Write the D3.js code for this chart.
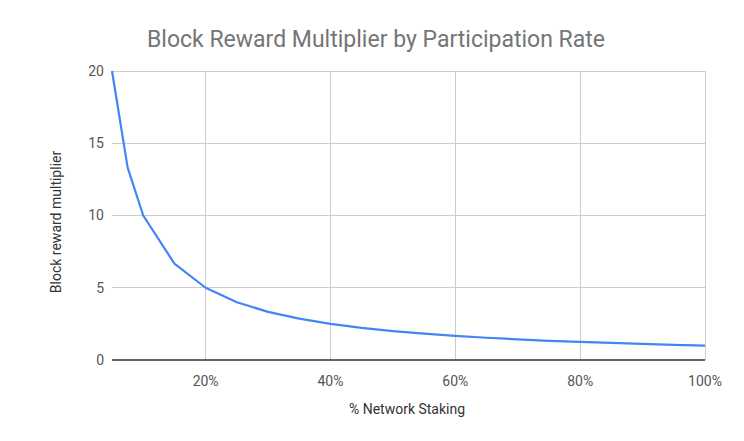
<!DOCTYPE html>
<html><head><meta charset="utf-8">
<script src="https://cdn.jsdelivr.net/npm/d3@7"></script>
<style>body{margin:0;background:#fff}svg{display:block;font-family:Roboto,"Noto Sans",sans-serif}</style>
</head><body><svg id="c" width="744" height="441"></svg>
<script>
const stakingPct = [5, 7.5, 10, 15, 20, 25, 30, 35, 40, 45, 50, 55, 60, 65, 70, 75, 80, 85, 90, 95, 100];
const multiplier = [20, 13.33, 10, 6.67, 5, 4, 3.33, 2.86, 2.5, 2.22, 2, 1.82, 1.67, 1.54, 1.43, 1.33, 1.25, 1.18, 1.11, 1.05, 1];
const xTicks = [20, 40, 60, 80, 100];
const yTicks = [0, 5, 10, 15, 20];
const titleText = "Block Reward Multiplier by Participation Rate";
const xLabel = "% Network Staking";
const yLabel = "Block reward multiplier";

const svg = d3.select("#c");
const x = d3.scaleLinear().domain([5, 100]).range([112, 705]);
const y = d3.scaleLinear().domain([0, 20]).range([360, 71]);

// grid
svg.append("g").selectAll("line").data(yTicks.filter(d => d > 0)).join("line")
  .attr("x1", x(5)).attr("x2", x(100)).attr("y1", d => y(d)).attr("y2", d => y(d))
  .attr("stroke", "#cccccc").attr("stroke-width", 1).attr("shape-rendering", "crispEdges");
svg.append("g").selectAll("line").data(xTicks).join("line")
  .attr("x1", d => x(d)).attr("x2", d => x(d)).attr("y1", y(20)).attr("y2", y(0))
  .attr("stroke", "#cccccc").attr("stroke-width", 1).attr("shape-rendering", "crispEdges");

// baseline
svg.append("line").attr("x1", x(5)).attr("x2", x(100)).attr("y1", y(0)).attr("y2", y(0))
  .attr("stroke", "#333333").attr("stroke-width", 1.5);

// tick labels
svg.append("g").selectAll("text").data(yTicks).join("text")
  .attr("x", 104).attr("y", d => y(d)).attr("dy", "0.35em").attr("text-anchor", "end")
  .attr("font-size", 14).attr("fill", "#555").text(d => d);
svg.append("g").selectAll("text").data(xTicks).join("text")
  .attr("x", d => x(d)).attr("y", 381).attr("dy", "0.35em").attr("text-anchor", "middle")
  .attr("font-size", 14).attr("fill", "#555").text(d => d + "%");

// line
const line = d3.line().x((d, i) => x(stakingPct[i])).y(d => y(d));
svg.append("path").datum(multiplier).attr("d", line).attr("fill", "none")
  .attr("stroke", "#4285f4").attr("stroke-width", 2.2).attr("stroke-linejoin", "round");

// titles
svg.append("text").attr("x", 376).attr("y", 47).attr("text-anchor", "middle")
  .attr("font-size", 23).attr("fill", "#757575").text(titleText);
svg.append("text").attr("x", 407).attr("y", 414).attr("text-anchor", "middle")
  .attr("font-size", 14).attr("fill", "#333").text(xLabel);
svg.append("text").attr("transform", "translate(61,222) rotate(-90)").attr("text-anchor", "middle")
  .attr("font-size", 14).attr("fill", "#333").text(yLabel);
</script></body></html>
